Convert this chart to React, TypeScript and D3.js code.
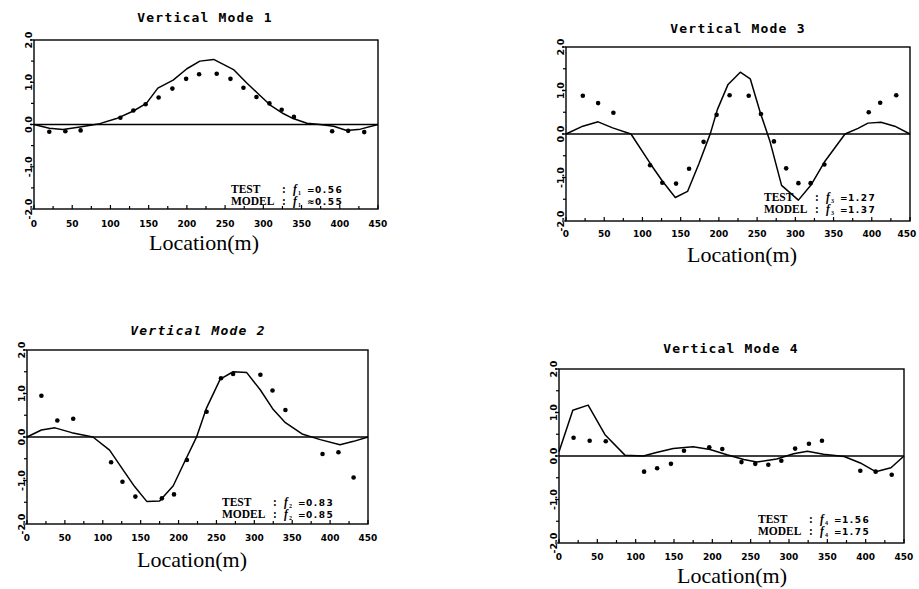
import React from 'react';
import * as d3 from 'd3';

// mode 1
const mode1ModelX = [0, 20, 38, 60, 86, 108, 130, 147, 162, 182, 200, 217, 235, 261, 278, 296, 309, 326, 339, 357, 374, 392, 409, 427, 450];
const mode1ModelY = [0, -0.09, -0.12, -0.06, 0.02, 0.14, 0.32, 0.5, 0.86, 1.05, 1.32, 1.5, 1.54, 1.3, 0.99, 0.68, 0.46, 0.26, 0.14, 0.03, 0, -0.04, -0.14, -0.11, 0];
const mode1TestX = [20, 41, 61, 113, 130, 146, 163, 181, 199, 216, 239, 257, 274, 291, 308, 324, 340, 390, 411, 432];
const mode1TestY = [-0.17, -0.16, -0.14, 0.16, 0.33, 0.48, 0.64, 0.85, 1.08, 1.19, 1.2, 1.08, 0.87, 0.65, 0.5, 0.35, 0.18, -0.16, -0.15, -0.18];

// mode 2
const mode2ModelX = [0, 19, 37, 59, 87, 109, 127, 142, 158, 175, 193, 208, 224, 237, 255, 272, 290, 308, 325, 341, 363, 387, 413, 431, 450];
const mode2ModelY = [0, 0.16, 0.21, 0.1, 0, -0.3, -0.76, -1.14, -1.48, -1.47, -1.12, -0.57, 0.01, 0.67, 1.33, 1.5, 1.48, 1.08, 0.63, 0.33, 0.07, -0.06, -0.18, -0.1, 0];
const mode2TestX = [19, 40, 61, 111, 126, 143, 178, 194, 211, 237, 256, 272, 308, 324, 341, 390, 411, 431];
const mode2TestY = [0.95, 0.38, 0.42, -0.58, -1.03, -1.37, -1.41, -1.32, -0.53, 0.58, 1.35, 1.45, 1.43, 1.07, 0.62, -0.39, -0.35, -0.93];

// mode 3
const mode3ModelX = [0, 22, 42, 61, 85, 111, 126, 143, 159, 174, 189, 198, 212, 228, 241, 254, 267, 282, 304, 321, 339, 365, 382, 395, 412, 430, 450];
const mode3ModelY = [0, 0.18, 0.28, 0.14, 0, -0.7, -1.08, -1.46, -1.32, -0.68, 0.02, 0.56, 1.14, 1.42, 1.27, 0.5, -0.18, -1.18, -1.52, -1.16, -0.62, 0, 0.13, 0.25, 0.27, 0.18, 0];
const mode3TestX = [22, 42, 62, 110, 126, 144, 161, 180, 197, 214, 239, 255, 272, 288, 304, 320, 338, 396, 411, 432];
const mode3TestY = [0.88, 0.71, 0.49, -0.72, -1.12, -1.14, -0.8, -0.18, 0.44, 0.89, 0.88, 0.46, -0.17, -0.79, -1.13, -1.13, -0.7, 0.5, 0.72, 0.89];

// mode 4
const mode4ModelX = [0, 18, 38, 60, 86, 110, 127, 149, 175, 197, 219, 241, 258, 284, 306, 324, 345, 372, 393, 413, 433, 450];
const mode4ModelY = [0.1, 1.05, 1.17, 0.49, 0.02, 0, 0.08, 0.17, 0.21, 0.15, 0.03, -0.08, -0.14, -0.07, 0.05, 0.11, 0.04, -0.01, -0.16, -0.36, -0.27, 0];
const mode4TestX = [19, 40, 61, 111, 128, 146, 163, 196, 213, 238, 256, 273, 290, 308, 326, 343, 393, 413, 434];
const mode4TestY = [0.42, 0.35, 0.34, -0.36, -0.28, -0.18, 0.12, 0.2, 0.16, -0.14, -0.18, -0.2, -0.11, 0.17, 0.28, 0.35, -0.34, -0.36, -0.43];

const xTickLabels = [0, 50, 100, 150, 200, 250, 300, 350, 400, 450];
const yTickLabels = ['2.0', '1.0', '0.0', '-1.0', '-2.0'];

const panels = [
  {
    title: 'Vertical Mode 1', italic: false, sub: '1', test: '0.56', model: '0.55', approx: true,
    left: 34, right: 378, top: 40, bottom: 209, titleX: 205, titleY: 22, tickY: 227, locX: 204, locY: 250,
    legX: 231, legY: 193,
    modelX: mode1ModelX, modelY: mode1ModelY, testX: mode1TestX, testY: mode1TestY,
  },
  {
    title: 'Vertical Mode 3', italic: false, sub: '3', test: '1.27', model: '1.37', approx: false,
    left: 566, right: 910, top: 47, bottom: 221, titleX: 738, titleY: 33, tickY: 237, locX: 742, locY: 262,
    legX: 764, legY: 201,
    modelX: mode3ModelX, modelY: mode3ModelY, testX: mode3TestX, testY: mode3TestY,
  },
  {
    title: 'Vertical Mode 2', italic: true, sub: '2', test: '0.83', model: '0.85', approx: false,
    left: 27, right: 368, top: 350, bottom: 524, titleX: 198, titleY: 335, tickY: 541, locX: 192, locY: 567,
    legX: 222, legY: 506,
    modelX: mode2ModelX, modelY: mode2ModelY, testX: mode2TestX, testY: mode2TestY,
  },
  {
    title: 'Vertical Mode 4', italic: false, sub: '4', test: '1.56', model: '1.75', approx: false,
    left: 559, right: 904, top: 369, bottom: 543, titleX: 731, titleY: 353, tickY: 560, locX: 732, locY: 583,
    legX: 758, legY: 523,
    modelX: mode4ModelX, modelY: mode4ModelY, testX: mode4TestX, testY: mode4TestY,
  },
];

const Panel = ({ p }) => {
  const x = d3.scaleLinear().domain([0, 450]).range([p.left, p.right]);
  const y = d3.scaleLinear().domain([-2, 2]).range([p.bottom, p.top]);
  const line = d3.line().x(d => x(d[0])).y(d => y(d[1]));
  const modelPts = p.modelX.map((v, i) => [v, p.modelY[i]]);
  const xTicks = d3.range(0, 451, 25);
  const yTicks = d3.range(-2, 2.01, 0.5);

  return (
    <g>
      <text x={p.titleX} y={p.titleY} textAnchor="middle" fontFamily="DejaVu Sans Mono" fontSize={13}
        fontWeight="bold" fontStyle={p.italic ? 'italic' : 'normal'} letterSpacing={1.2}>{p.title}</text>

      {/* frame */}
      <rect x={p.left} y={p.top} width={p.right - p.left} height={p.bottom - p.top}
        fill="none" stroke="#000" strokeWidth={1.4} />
      <line x1={p.left} x2={p.right} y1={y(0)} y2={y(0)} stroke="#000" strokeWidth={1.3} />

      {/* y axis */}
      {yTicks.map(t => (
        <line key={'yt' + t} x1={p.left - (Number.isInteger(t) ? 4 : 3)} x2={p.left} y1={y(t)} y2={y(t)}
          stroke="#000" strokeWidth={1.2} />
      ))}
      {yTickLabels.map(lab => (
        <text key={lab} transform={`translate(${p.left - 2},${y(+lab)}) rotate(-90)`} textAnchor="middle"
          fontFamily="DejaVu Sans" fontWeight="bold" fontSize={9.5}>{lab}</text>
      ))}

      {/* x axis */}
      {xTicks.map(t => (
        <line key={'xt' + t} x1={x(t)} x2={x(t)} y1={p.bottom} y2={p.bottom - (t % 50 === 0 ? 4 : 3)}
          stroke="#000" strokeWidth={1.2} />
      ))}
      {xTickLabels.map(t => (
        <text key={'xl' + t} x={Math.min(x(t), 907)} y={p.tickY} textAnchor="middle"
          fontFamily="DejaVu Sans" fontWeight="bold" fontSize={9}>{t}</text>
      ))}
      <text x={p.locX} y={p.locY} textAnchor="middle" fontFamily="Liberation Serif" fontSize={22}>Location(m)</text>

      {/* model line and test points */}
      <path d={line(modelPts)} fill="none" stroke="#000" strokeWidth={1.5} strokeLinejoin="round" />
      {p.testX.map((v, i) => (
        <circle key={'d' + i} cx={x(v)} cy={y(p.testY[i])} r={2.3} fill="#000" />
      ))}

      {/* legend */}
      {[['TEST', p.test, '='], ['MODEL', p.model, p.approx ? '\u2248' : '=']].map((row, i) => (
        <g key={row[0]} transform={`translate(${p.legX},${p.legY + i * 12})`}>
          <text x={0} y={0} fontFamily="Liberation Serif" fontWeight="bold" fontSize={11.5}>{row[0]}</text>
          <text x={51} y={0} fontFamily="Liberation Serif" fontWeight="bold" fontSize={11.5}>:</text>
          <text x={62} y={0} fontFamily="Liberation Serif" fontWeight="bold" fontStyle="italic" fontSize={11.5}>f</text>
          <text x={67} y={2} fontFamily="Liberation Serif" fontWeight="bold" fontSize={6}>{p.sub}</text>
          <text x={76} y={0} fontFamily="DejaVu Sans" fontWeight="bold" fontSize={9}>{row[2]}</text>
          <text x={84} y={0} fontFamily="DejaVu Sans" fontWeight="bold" fontSize={9} letterSpacing={1.5}>{row[1]}</text>
        </g>
      ))}
    </g>
  );
};

export default function App() {
  return (
    <svg width={919} height={589} style={{ position: 'absolute', left: 0, top: 0, background: '#fff' }}>
      <rect width={919} height={589} fill="#fff" />
      {panels.map(p => <Panel key={p.title} p={p} />)}
    </svg>
  );
}
